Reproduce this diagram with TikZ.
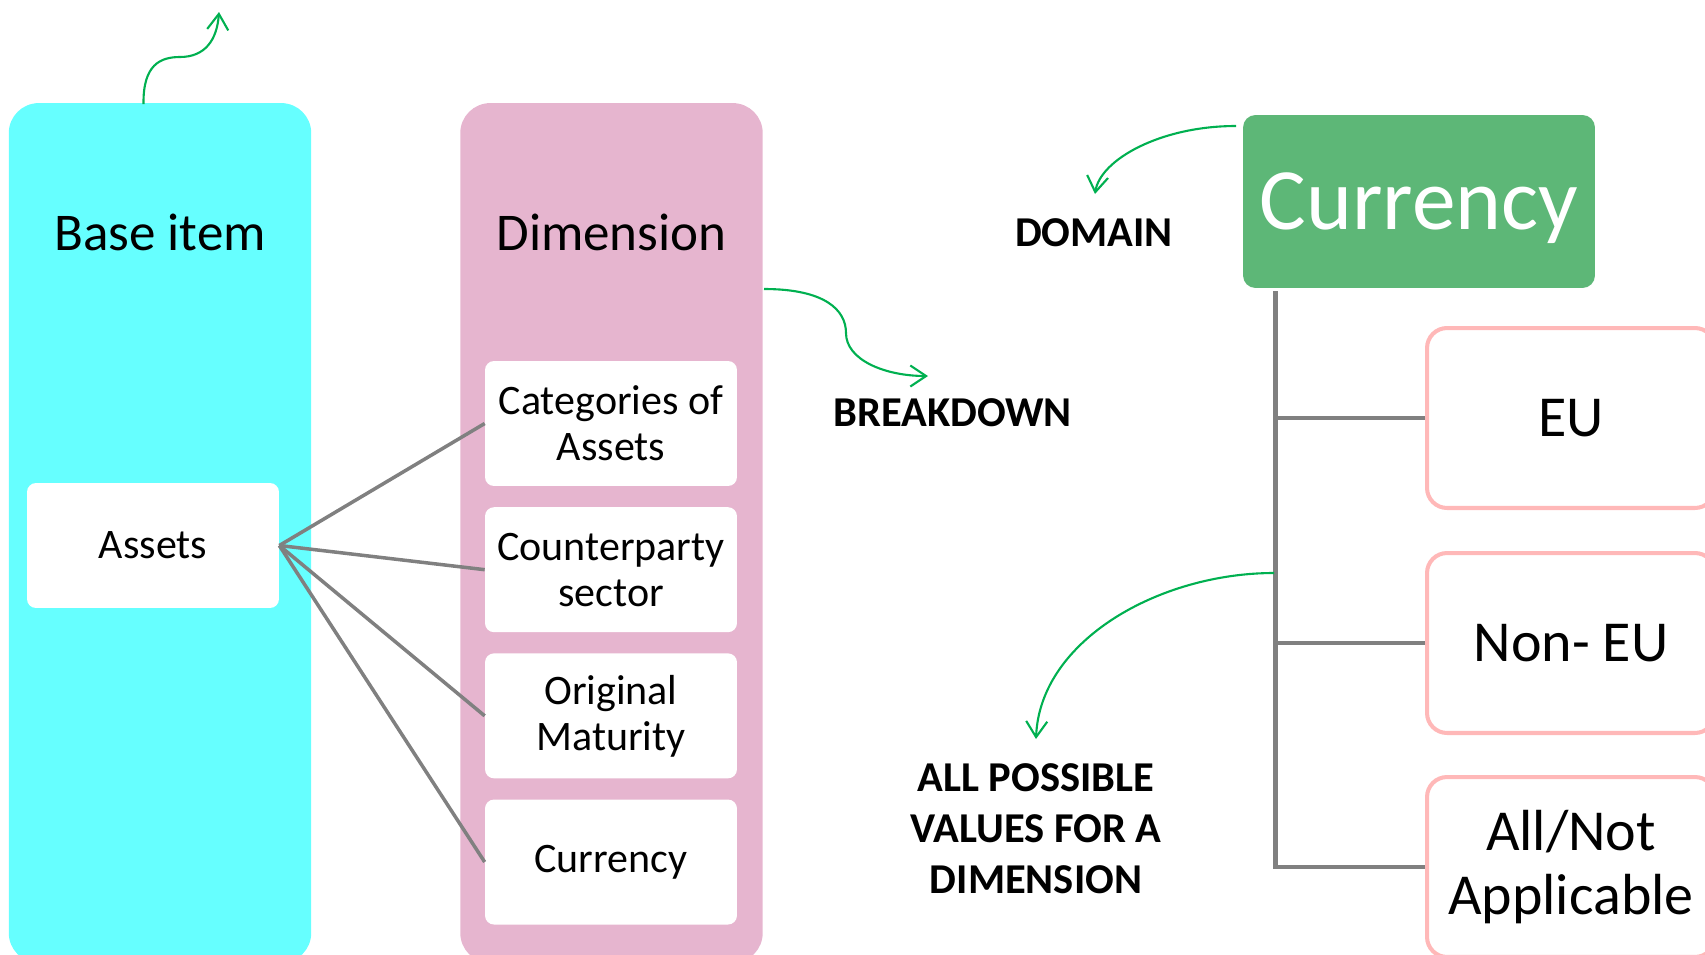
\documentclass[tikz,border=0pt]{standalone}
\usepackage{fontspec}
\setmainfont{Carlito}
\usetikzlibrary{positioning,arrows.meta}
\definecolor{baseblue}{HTML}{66FFFF}
\definecolor{dimpink}{HTML}{E6B5CF}
\definecolor{domgreen}{HTML}{5DB777}
\definecolor{arrgreen}{HTML}{00B050}
\definecolor{valpink}{HTML}{FFB8B8}
\definecolor{linegray}{HTML}{808080}
\newcommand\dimbox[3]{\node(#1)[itembox,below=0.41cm of #2]{#3};}
\newcommand\valbox[3]{\node(#1)[valstyle] at (#2){#3};}
\tikzset{
  panel/.style={rounded corners=0.6cm,minimum width=6.05cm,minimum height=17.2cm,inner sep=0pt},
  title/.style={font=\fontsize{30.2}{36}\selectfont},
  itembox/.style={fill=white,rounded corners=0.18cm,minimum width=5.04cm,minimum height=2.5cm,
    align=center,inner sep=0pt,font=\fontsize{23.9}{26.2}\selectfont},
  dombox/.style={fill=domgreen,text=white,rounded corners=0.25cm,minimum width=7.04cm,
    minimum height=3.46cm,inner sep=0pt,text depth=0pt,font=\fontsize{49.8}{58}\selectfont},
  valstyle/.style={draw=valpink,line width=2.3pt,fill=white,rounded corners=0.4cm,
    minimum width=5.76cm,minimum height=3.6cm,align=center,inner sep=0pt,
    font=\fontsize{33}{36.6}\selectfont},
  note/.style={align=center,font=\bfseries\fontsize{24.2}{29}\selectfont},
  link/.style={draw=linegray,line width=2pt},
  tree/.style={draw=linegray,line width=2.7pt},
  pointer/.style={draw=arrgreen,line width=1.2pt,-{Straight Barb[length=9pt,width=12pt]}}
}
\begin{document}
\begin{tikzpicture}[x=0.02cm,y=-0.02cm]
    \clip (0,0) rectangle (1705,954);
    % columns
    \node(base)[panel,fill=baseblue] at (160,533){};
    \node(dim)[panel,fill=dimpink] at (611.5,533){};
    \node(basett)[title] at (160,232){Base item};
    \node(dimtt)[title] at (611.5,232){Dimension};
    \node(ba)[itembox] at (153,545.5){Assets};
    \node(d1)[itembox] at (611,423.5){Categories of\\Assets};
    \dimbox{d2}{d1}{Counterparty\\sector}
    \dimbox{d3}{d2}{Original\\Maturity}
    \dimbox{d4}{d3}{Currency}
    \foreach \i in {1,...,4} \draw[link] (ba.east) -- (d\i.west);
    % domain and its values
    \node(cur)[dombox] at (1419,201.5){Currency};
    \valbox{v1}{1571,418}{EU}
    \valbox{v2}{1571,643}{Non- EU}
    \valbox{v3}{1571,867}{All/Not\\Applicable}
    \coordinate(trunk) at (1275.5,291);
    \draw[tree] (trunk) |- (v3.west);
    \draw[tree] (v1.west) -- (v1.west -| trunk);
    \draw[tree] (v2.west) -- (v2.west -| trunk);
    % notes
    \node(domlab)[note] at (1094,233){DOMAIN};
    \node(brklab)[note] at (952.5,413){BREAKDOWN};
    \node(alllab)[note] at (1036,829){ALL POSSIBLE\\VALUES FOR A\\DIMENSION};
    % green arrows
    \coordinate(up0) at (143.5,104);
    \coordinate(up1) at (219,12);
    \draw[pointer] (up0) .. controls (143,65) and (160,57) .. (180,57) .. controls (205,57) and (217,40) .. (up1);
    \coordinate(dom0) at (1236,126);
    \coordinate(dom1) at (1095,194);
    \draw[pointer] (dom0) .. controls (1160,126) and (1100,160) .. (dom1);
    \coordinate(brk0) at (764,289);
    \coordinate(brk1) at (928,376);
    \draw[pointer] (brk0) .. controls (825,289) and (846,310) .. (846,333) .. controls (846,360) and (885,376) .. (brk1);
    \coordinate(all0) at (1274,573);
    \coordinate(all1) at (1036,739);
    \draw[pointer] (all0) .. controls (1160,573) and (1040,640) .. (all1);
\end{tikzpicture}
\end{document}
